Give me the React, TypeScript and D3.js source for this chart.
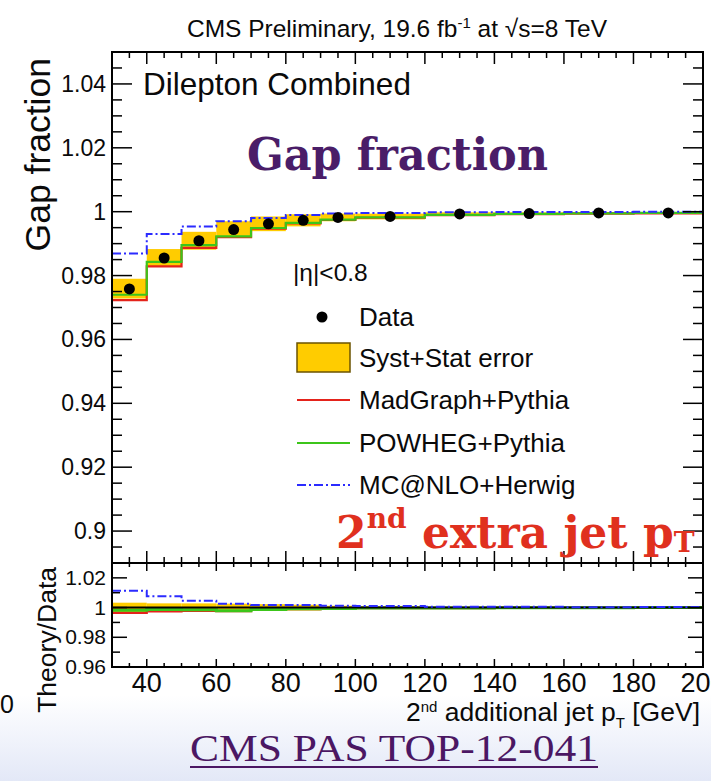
import React from "react";
import * as d3 from "d3";

const binEdges = [30, 40, 50, 60, 70, 80, 90, 100, 120, 140, 160, 180, 200];
const dataVals = [0.9758, 0.9855, 0.9909, 0.9944, 0.9962, 0.9973, 0.9982, 0.9985, 0.9993, 0.9994, 0.9996, 0.9996];
const bandHi = [0.979, 0.9883, 0.9937, 0.997, 0.9985, 0.9992, 0.9994, 0.9994, 0.9998, 0.9998, 0.9999, 0.9999];
const bandLo = [0.9728, 0.9827, 0.9881, 0.9918, 0.9939, 0.9954, 0.997, 0.9976, 0.9988, 0.999, 0.9993, 0.9993];
const madgraph = [0.9723, 0.9829, 0.9887, 0.992, 0.9947, 0.9963, 0.9974, 0.9981, 0.9989, 0.9992, 0.9994, 0.9995];
const powheg = [0.974, 0.9843, 0.9895, 0.9923, 0.9949, 0.9965, 0.9975, 0.9982, 0.999, 0.9993, 0.9995, 0.9996];
const mcatnlo = [0.9869, 0.993, 0.9954, 0.997, 0.998, 0.999, 0.9994, 0.9996, 0.9998, 0.9999, 0.9999, 1.0];

const mainYTicks = [0.9, 0.92, 0.94, 0.96, 0.98, 1, 1.02, 1.04];
const ratioYTicks = [0.96, 0.98, 1, 1.02];
const xTicks = [40, 60, 80, 100, 120, 140, 160, 180, 200];

const W = 711, H = 781;
const L = 112, R = 703;
const mainTop = 52, mainBot = 563, ratBot = 667;

const x = d3.scaleLinear().domain([30, 200]).range([L, R]);
const yM = d3.scaleLinear().domain([0.89, 1.05]).range([mainBot, mainTop]);
const yR = d3.scaleLinear().domain([0.96, 1.03]).range([ratBot, mainBot]);

const SANS = "'Liberation Sans', Arial, Helvetica, sans-serif";
const SERIF_B = "'DejaVu Serif', serif";
const SERIF = "'Liberation Serif', 'Times New Roman', serif";

const RED = "#e4231b";
const GREEN = "#3cc51a";
const BLUE = "#2b2bff";
const YELLOW = "#ffcc00";
const INK = "#0a0a0a";

function stepPoints(vals: number[]): [number, number][] {
  const pts: [number, number][] = [];
  vals.forEach((v, i) => {
    pts.push([binEdges[i], v]);
    pts.push([binEdges[i + 1], v]);
  });
  return pts;
}

function stepPath(vals: number[], y: d3.ScaleLinear<number, number>) {
  return d3.line<[number, number]>().x((d) => x(d[0])).y((d) => y(d[1]))(stepPoints(vals)) || "";
}

function range(a: number, b: number, s: number) {
  const out: number[] = [];
  for (let v = a; v <= b + 1e-9; v += s) out.push(+v.toFixed(6));
  return out;
}

export default function App() {
  const minorX = range(30, 200, 5);
  const minorYM = range(0.89, 1.05, 0.005);
  const minorYR = range(0.96, 1.03, 0.01);
  const ratio = (arr: number[]) => arr.map((v, i) => v / dataVals[i]);
  const dashDot = "9,3,2,3";

  return (
    <svg width={W} height={H} style={{ position: "absolute", left: 0, top: 0, background: "#fff" }}>
      <defs>
        <linearGradient id="bg" x1="0" y1="0" x2="0" y2="1">
          <stop offset="0" stopColor="#ffffff" />
          <stop offset="1" stopColor="#e3e8f7" />
        </linearGradient>
        <clipPath id="clipM">
          <rect x={L} y={mainTop} width={R - L} height={mainBot - mainTop} />
        </clipPath>
        <clipPath id="clipR">
          <rect x={L} y={mainBot} width={R - L} height={ratBot - mainBot} />
        </clipPath>
      </defs>
      <rect x={0} y={0} width={W} height={H} fill="#fff" />
      <rect x={0} y={695} width={W} height={H - 695} fill="url(#bg)" />

      {/* Title */}
      <text x={397} y={37} textAnchor="middle" fontFamily={SANS} fontSize={24.5} fill={INK}>
        CMS Preliminary, 19.6 fb<tspan dy={-9} fontSize={15}>-1</tspan>
        <tspan dy={9}> at </tspan>
        <tspan>√s=8 TeV</tspan>
      </text>

      {/* Main panel content */}
      <g clipPath="url(#clipM)">
        {dataVals.map((_, i) => (
          <rect
            key={"b" + i}
            x={x(binEdges[i])}
            width={x(binEdges[i + 1]) - x(binEdges[i])}
            y={yM(bandHi[i])}
            height={yM(bandLo[i]) - yM(bandHi[i])}
            fill={YELLOW}
          />
        ))}
        <path d={stepPath(madgraph, yM)} fill="none" stroke={RED} strokeWidth={2.2} />
        <path d={stepPath(powheg, yM)} fill="none" stroke={GREEN} strokeWidth={2.2} />
        <path d={stepPath(mcatnlo, yM)} fill="none" stroke={BLUE} strokeWidth={2} strokeDasharray={dashDot} />
        {dataVals.map((v, i) => (
          <circle key={"d" + i} cx={x((binEdges[i] + binEdges[i + 1]) / 2)} cy={yM(v)} r={5.5} fill="#000" />
        ))}
      </g>

      {/* Ratio panel content */}
      <g clipPath="url(#clipR)">
        {dataVals.map((d, i) => (
          <rect
            key={"rb" + i}
            x={x(binEdges[i])}
            width={x(binEdges[i + 1]) - x(binEdges[i])}
            y={yR(bandHi[i] / d)}
            height={yR(bandLo[i] / d) - yR(bandHi[i] / d)}
            fill={YELLOW}
          />
        ))}
        <path d={stepPath(ratio(madgraph), yR)} fill="none" stroke={RED} strokeWidth={2.2} />
        <path d={stepPath(ratio(powheg), yR)} fill="none" stroke={GREEN} strokeWidth={3} />
        <line x1={L} x2={R} y1={yR(1)} y2={yR(1)} stroke="#000" strokeWidth={2} />
        <path d={stepPath(ratio(mcatnlo), yR)} fill="none" stroke={BLUE} strokeWidth={2} strokeDasharray={dashDot} />
      </g>

      {/* Ticks */}
      <g stroke="#000" strokeWidth={1.5}>
        {minorYM.map((v) => {
          const major = mainYTicks.some((t) => Math.abs(t - v) < 1e-6);
          const len = major ? 20 : 10;
          return (
            <g key={"ym" + v}>
              <line x1={L} x2={L + len} y1={yM(v)} y2={yM(v)} />
              <line x1={R} x2={R - len} y1={yM(v)} y2={yM(v)} />
            </g>
          );
        })}
        {minorX.map((v) => {
          const major = xTicks.includes(v);
          const lm = major ? 12 : 6;
          const lr = major ? 8 : 4;
          return (
            <g key={"x" + v}>
              <line x1={x(v)} x2={x(v)} y1={mainTop} y2={mainTop + lm} />
              <line x1={x(v)} x2={x(v)} y1={mainBot} y2={mainBot - lm} />
              <line x1={x(v)} x2={x(v)} y1={mainBot} y2={mainBot + lr} />
              <line x1={x(v)} x2={x(v)} y1={ratBot} y2={ratBot - lr} />
            </g>
          );
        })}
        {minorYR.map((v) => {
          const major = ratioYTicks.some((t) => Math.abs(t - v) < 1e-6);
          const len = major ? 15 : 8;
          return (
            <g key={"yr" + v}>
              <line x1={L} x2={L + len} y1={yR(v)} y2={yR(v)} />
              <line x1={R} x2={R - len} y1={yR(v)} y2={yR(v)} />
            </g>
          );
        })}
      </g>

      {/* Frames */}
      <rect x={L} y={mainTop} width={R - L} height={mainBot - mainTop} fill="none" stroke="#000" strokeWidth={2} />
      <rect x={L} y={mainBot} width={R - L} height={ratBot - mainBot} fill="none" stroke="#000" strokeWidth={2} />

      {/* Tick labels */}
      <g fontFamily={SANS} fill={INK}>
        {mainYTicks.map((v) => (
          <text key={"lm" + v} x={106} y={yM(v) + 8} textAnchor="end" fontSize={23}>
            {d3.format("~g")(v)}
          </text>
        ))}
        {ratioYTicks.map((v) => (
          <text key={"lr" + v} x={106} y={yR(v) + 7} textAnchor="end" fontSize={21}>
            {d3.format("~g")(v)}
          </text>
        ))}
        {xTicks.map((v) => (
          <text key={"lx" + v} x={x(v)} y={692} textAnchor="middle" fontSize={27}>
            {v}
          </text>
        ))}
      </g>

      {/* Axis titles */}
      <text transform="translate(50,58) rotate(-90)" textAnchor="end" fontFamily={SANS} fontSize={35.5} fill={INK}>
        Gap fraction
      </text>
      <text transform="translate(56,567) rotate(-90)" textAnchor="end" fontFamily={SANS} fontSize={26.5} fill={INK}>
        Theory/Data
      </text>
      <text x={700} y={721} textAnchor="end" fontFamily={SANS} fontSize={26.5} fill={INK}>
        2<tspan dy={-9} fontSize={15}>nd</tspan>
        <tspan dy={9}> additional jet p</tspan>
        <tspan dy={7} fontSize={15}>T</tspan>
        <tspan dy={-7}> [GeV]</tspan>
      </text>
      <text x={0} y={713} fontFamily={SANS} fontSize={25} fill={INK}>0</text>

      {/* Labels in plot */}
      <text x={143} y={95} fontFamily={SANS} fontSize={31.5} fill={INK}>Dilepton Combined</text>
      <text x={247} y={170} fontFamily={SERIF_B} fontWeight="bold" fontSize={44} fill="#4a1d68"
        textLength={301} lengthAdjust="spacingAndGlyphs">
        Gap fraction
      </text>

      {/* Legend */}
      <g fontFamily={SANS} fill={INK}>
        <text x={293} y={281} fontSize={24.5}>|η|&lt;0.8</text>
        <circle cx={322} cy={317} r={5.5} fill="#000" />
        <text x={359} y={326} fontSize={26}>Data</text>
        <rect x={297} y={343} width={53} height={29} fill={YELLOW} stroke="#6b5300" strokeWidth={1.5} />
        <text x={359} y={367} fontSize={26}>Syst+Stat error</text>
        <line x1={297} x2={350} y1={400} y2={400} stroke={RED} strokeWidth={2.2} />
        <text x={359} y={409} fontSize={26}>MadGraph+Pythia</text>
        <line x1={297} x2={350} y1={443} y2={443} stroke={GREEN} strokeWidth={2.2} />
        <text x={359} y={452} fontSize={26}>POWHEG+Pythia</text>
        <line x1={297} x2={350} y1={485} y2={485} stroke={BLUE} strokeWidth={2} strokeDasharray={dashDot} />
        <text x={359} y={494} fontSize={26}>MC@NLO+Herwig</text>
      </g>

      <text x={336} y={548} fontFamily={SERIF_B} fontWeight="bold" fontSize={44} fill="#e0301e">
        2<tspan dy={-20} fontSize={28}>nd</tspan>
        <tspan dy={20}> extra jet p</tspan>
        <tspan dy={4} fontSize={28}>T</tspan>
      </text>

      <text x={394} y={761} textAnchor="middle" fontFamily={SERIF} fontSize={38} fill="#4b1763"
        textLength={408} lengthAdjust="spacingAndGlyphs">
        CMS PAS TOP-12-041
      </text>
      <line x1={190} x2={598} y1={767} y2={767} stroke="#4b1763" strokeWidth={2} />
    </svg>
  );
}
